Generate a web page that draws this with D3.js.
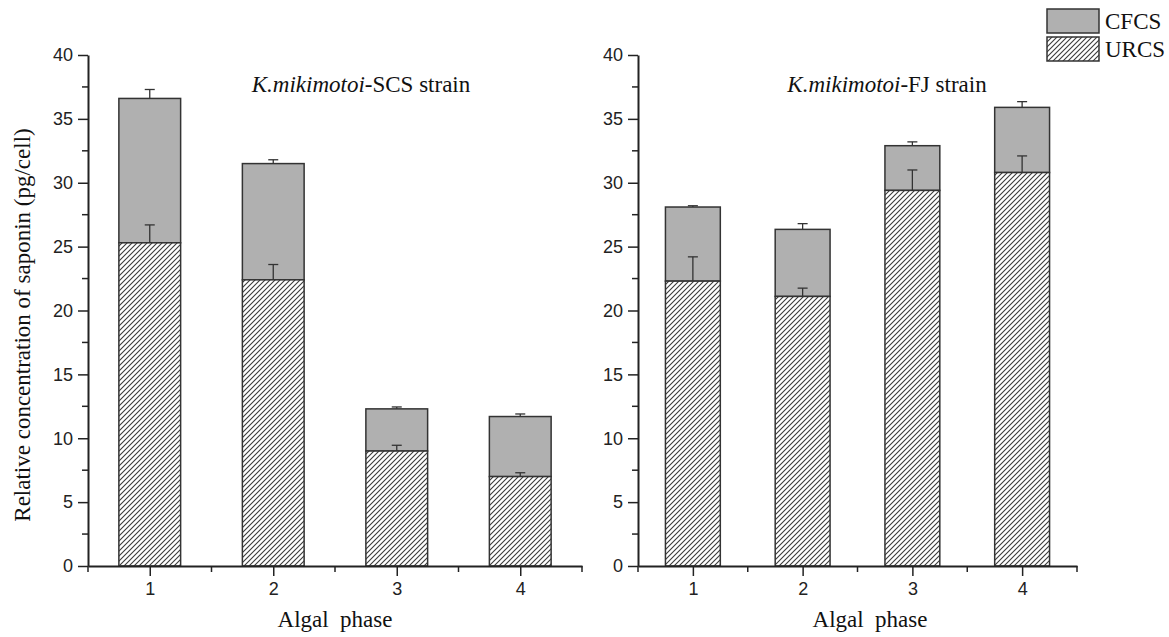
<!DOCTYPE html>
<html>
<head>
<meta charset="utf-8">
<script src="https://cdn.jsdelivr.net/npm/d3@7"></script>
<style>
  body { margin: 0; background: #fff; }
  .tick text { font-family: Arial, "Liberation Sans", sans-serif; }
</style>
</head>
<body>
<div id="viz"></div>
<script>
// data
var phases = [1, 2, 3, 4];
var strains = ["K.mikimotoi-SCS strain", "K.mikimotoi-FJ strain"];
// URCS (hatched, bottom) and total height (URCS + CFCS)
var scsUrcs = [25.3, 22.4, 9.0, 7.0];
var scsUrcsErr = [1.4, 1.2, 0.45, 0.3];
var scsTotal = [36.6, 31.5, 12.3, 11.7];
var scsTotalErr = [0.7, 0.3, 0.15, 0.2];
var fjUrcs = [22.3, 21.1, 29.4, 30.8];
var fjUrcsErr = [1.9, 0.65, 1.6, 1.3];
var fjTotal = [28.1, 26.35, 32.9, 35.9];
var fjTotalErr = [0.1, 0.45, 0.3, 0.45];
var yTicks = [0, 5, 10, 15, 20, 25, 30, 35, 40];

var width = 1169;
var height = 637;
var serif = '"Liberation Serif", "Times New Roman", serif';

var svg = d3.select('#viz').append('svg')
  .attr('width', width)
  .attr('height', height);

// hatch pattern for URCS
var defs = svg.append('defs');
var pat = defs.append('pattern')
  .attr('id', 'hatch')
  .attr('patternUnits', 'userSpaceOnUse')
  .attr('width', 5)
  .attr('height', 5);
pat.append('rect').attr('width', 5).attr('height', 5).attr('fill', '#fff');
pat.append('path')
  .attr('d', 'M-1,1 l2,-2 M0,5 l5,-5 M4,6 l2,-2')
  .attr('stroke', '#3a3a3a')
  .attr('stroke-width', 1.1);

var panels = [
  { x0: 88, x1: 582, title: strains[0], titleX: 361, urcs: scsUrcs, urcsErr: scsUrcsErr, total: scsTotal, totalErr: scsTotalErr, labelX: 335 },
  { x0: 638, x1: 1077, title: strains[1], titleX: 887, urcs: fjUrcs, urcsErr: fjUrcsErr, total: fjTotal, totalErr: fjTotalErr, labelX: 870 }
];

var y = d3.scaleLinear().domain([0, 40]).range([566, 55]);

panels.forEach(function(p) {
  var x = d3.scaleLinear().domain([0.5, 4.5]).range([p.x0, p.x1]);
  var bw = x(1.5) - x(1);
  var g = svg.append('g');

  var rows = phases.map(function(ph, i) {
    return { ph: ph, u: p.urcs[i], ue: p.urcsErr[i], t: p.total[i], te: p.totalErr[i] };
  });

  // CFCS part (grey)
  g.selectAll('.cf').data(rows).enter().append('rect')
    .attr('x', function(d) { return x(d.ph) - bw / 2; })
    .attr('y', function(d) { return y(d.t); })
    .attr('width', bw)
    .attr('height', function(d) { return y(d.u) - y(d.t); })
    .attr('fill', '#b0b0b0')
    .attr('stroke', '#333')
    .attr('stroke-width', 1.5);

  // URCS part (hatched)
  g.selectAll('.ur').data(rows).enter().append('rect')
    .attr('x', function(d) { return x(d.ph) - bw / 2; })
    .attr('y', function(d) { return y(d.u); })
    .attr('width', bw)
    .attr('height', function(d) { return y(0) - y(d.u); })
    .attr('fill', 'url(#hatch)')
    .attr('stroke', '#333')
    .attr('stroke-width', 1.5);

  // error bars (upward only)
  var errs = [];
  rows.forEach(function(d) {
    errs.push({ ph: d.ph, v: d.u, e: d.ue });
    errs.push({ ph: d.ph, v: d.t, e: d.te });
  });
  var eg = g.selectAll('.err').data(errs).enter().append('g');
  eg.append('line')
    .attr('x1', function(d) { return x(d.ph); })
    .attr('x2', function(d) { return x(d.ph); })
    .attr('y1', function(d) { return y(d.v); })
    .attr('y2', function(d) { return y(d.v + d.e); })
    .attr('stroke', '#333').attr('stroke-width', 1.3);
  eg.append('line')
    .attr('x1', function(d) { return x(d.ph) - 5; })
    .attr('x2', function(d) { return x(d.ph) + 5; })
    .attr('y1', function(d) { return y(d.v + d.e); })
    .attr('y2', function(d) { return y(d.v + d.e); })
    .attr('stroke', '#333').attr('stroke-width', 1.3);

  // minor ticks
  var minorY = d3.range(2.5, 40, 5);
  var minorX = [0.5, 1.5, 2.5, 3.5, 4.5];
  g.selectAll('.my').data(minorY).enter().append('line')
    .attr('x1', p.x0 - 6).attr('x2', p.x0)
    .attr('y1', function(d) { return y(d); }).attr('y2', function(d) { return y(d); })
    .attr('stroke', '#222').attr('stroke-width', 1.5);
  g.selectAll('.mx').data(minorX).enter().append('line')
    .attr('y1', y(0)).attr('y2', y(0) + 6)
    .attr('x1', function(d) { return x(d); }).attr('x2', function(d) { return x(d); })
    .attr('stroke', '#222').attr('stroke-width', 1.5);

  // axes
  var yAxis = g.append('g')
    .attr('transform', 'translate(' + p.x0 + ',0)')
    .call(d3.axisLeft(y).tickValues(yTicks).tickSize(10).tickPadding(5).tickSizeOuter(0));
  var xAxis = g.append('g')
    .attr('transform', 'translate(0,' + y(0) + ')')
    .call(d3.axisBottom(x).tickValues(phases).tickFormat(d3.format('d')).tickSize(10).tickPadding(6).tickSizeOuter(0));
  [yAxis, xAxis].forEach(function(a) {
    a.select('.domain').attr('stroke', '#222').attr('stroke-width', 2);
    a.selectAll('.tick line').attr('stroke', '#222').attr('stroke-width', 1.5);
    a.selectAll('.tick text').attr('font-size', 18).attr('fill', '#222');
  });

  // title
  var t = g.append('text')
    .attr('x', p.titleX).attr('y', 92)
    .attr('text-anchor', 'middle')
    .attr('font-family', serif)
    .attr('font-size', 23)
    .attr('fill', '#111');
  var parts = p.title.split('-');
  t.append('tspan').attr('font-style', 'italic').text(parts[0]);
  t.append('tspan').text('-' + parts.slice(1).join('-'));

  // x label
  g.append('text')
    .attr('x', p.labelX).attr('y', 627)
    .attr('text-anchor', 'middle')
    .attr('font-family', serif)
    .attr('font-size', 23)
    .attr('fill', '#111')
    .attr('xml:space', 'preserve')
    .text('Algal  phase');
});

// y label
svg.append('text')
  .attr('transform', 'translate(30,325) rotate(-90)')
  .attr('text-anchor', 'middle')
  .attr('font-family', serif)
  .attr('font-size', 23)
  .attr('fill', '#111')
  .text('Relative concentration of saponin (pg/cell)');

// legend
var legend = [{ name: 'CFCS', fill: '#b0b0b0' }, { name: 'URCS', fill: 'url(#hatch)' }];
var lg = svg.selectAll('.lg').data(legend).enter().append('g')
  .attr('transform', function(d, i) { return 'translate(1047,' + (9 + i * 28) + ')'; });
lg.append('rect')
  .attr('width', 52).attr('height', 24)
  .attr('fill', function(d) { return d.fill; })
  .attr('stroke', '#333').attr('stroke-width', 1.5);
lg.append('text')
  .attr('x', 58).attr('y', 20)
  .attr('font-family', serif)
  .attr('font-size', 23)
  .attr('fill', '#111')
  .text(function(d) { return d.name; });
</script>
</body>
</html>
